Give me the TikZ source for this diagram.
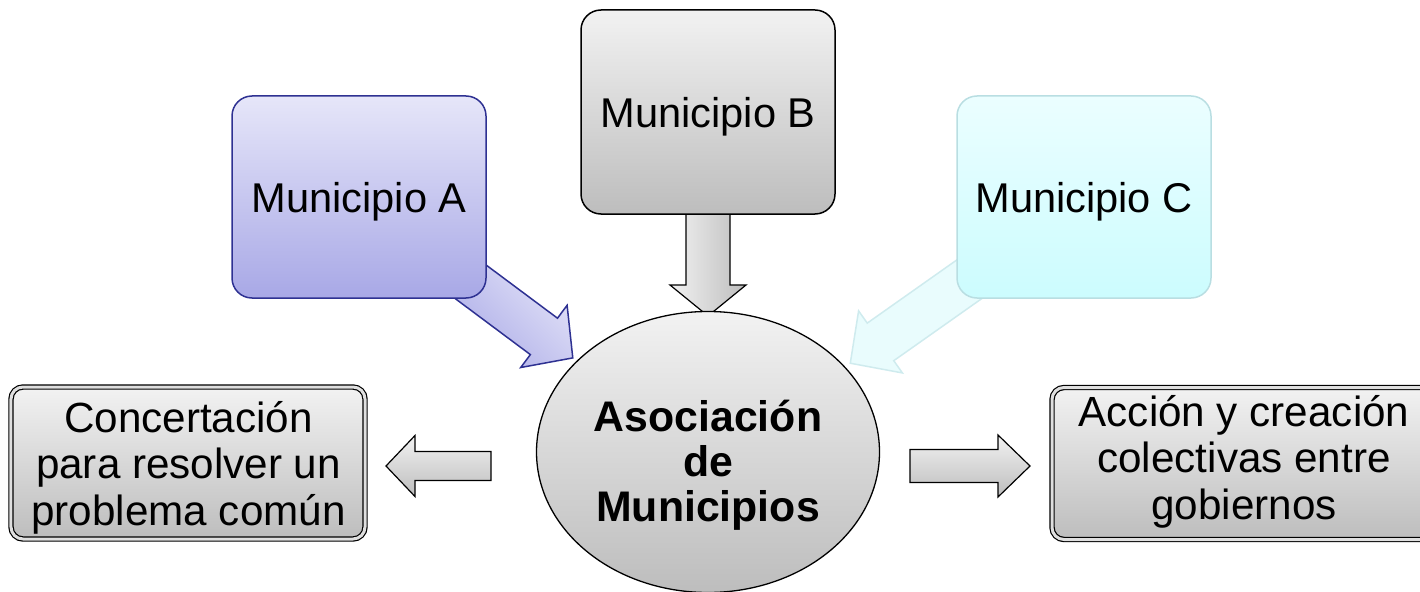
\documentclass[tikz,border=0pt]{standalone}
\usepackage{fontspec}
\setmainfont{Liberation Sans}
\usetikzlibrary{shapes.geometric}
\definecolor{navy}{HTML}{2E3192}
\definecolor{aTop}{HTML}{E6E6F9}
\definecolor{aBot}{HTML}{A8A8E6}
\definecolor{cTop}{HTML}{EBFEFF}
\definecolor{cBot}{HTML}{CCFCFE}
\definecolor{cLine}{HTML}{B9DEE2}
\definecolor{cArrow}{HTML}{E9FCFD}
\definecolor{cArrLine}{HTML}{CFEBEE}
\definecolor{gTop}{HTML}{F2F2F2}
\definecolor{gBot}{HTML}{BDBDBD}
\newcommand{\barrow}[7]{%
  \begin{scope}[shift={(#1)},rotate=#2]
    \path[#7] (0,-#4) -- (#3-#6,-#4) -- (#3-#6,-#5) -- (#3,0) -- (#3-#6,#5) -- (#3-#6,#4) -- (0,#4) -- cycle;
  \end{scope}}
\begin{document}
\begin{tikzpicture}[x=1bp,y=-1bp,
  munbox/.style={rectangle, rounded corners=20bp, line width=1.5bp, minimum width=254bp,
    font=\fontsize{41.6bp}{48bp}\selectfont, text=black, inner sep=0pt, text depth=0pt},
  abox/.style={munbox, draw=navy, top color=aTop, bottom color=aBot},
  gbox/.style={munbox, draw=black, top color=gTop, bottom color=gBot},
  cbox/.style={munbox, draw=cLine, top color=cTop, bottom color=cBot},
  dbox/.style={rectangle, rounded corners=12bp, draw=black, line width=1.2bp, double=gray!25, double distance=3bp, top color=gTop, bottom color=gBot, minimum height=152bp, inner sep=0pt},
  boxtext/.style={align=center, text=black, inner sep=0pt, font=\fontsize{42.2bp}{46.5bp}\selectfont},
  ell/.style={ellipse, draw=black, line width=1.3bp, top color=gTop, bottom color=gBot, minimum width=343bp, minimum height=281bp, inner sep=0pt},
  elltext/.style={align=center, text=black, inner sep=0pt, font=\fontsize{42.8bp}{45bp}\selectfont\bfseries},
  arrA/.style={draw=navy, line width=1.5bp, left color=aTop, right color=aBot, shading angle=-45},
  arrC/.style={draw=cArrLine, line width=1.5bp, fill=cArrow},
  arrG/.style={draw=black, line width=1.2bp, top color=gTop, bottom color=gBot},
  arrGv/.style={draw=black, line width=1.2bp, left color=gTop, right color=gBot}
]
\useasboundingbox (0,0) rectangle (1420,592);
\clip (0,0) rectangle (1420,592);

% block arrows (start points lie under the boxes)
\coordinate (sa) at (444.5,262.3);
\coordinate (sb) at (708,200);
\coordinate (sc) at (981,271);
\coordinate (sl) at (491,466);
\coordinate (sr) at (910,466);
\barrow{sa}{-36.7}{160}{22.7}{38.8}{36}{arrA}
\barrow{sb}{-90}{116}{22}{38}{31}{arrGv}
\barrow{sc}{215.2}{160}{23}{38}{37}{arrC}
\barrow{sl}{180}{105}{14.5}{30.5}{29}{arrG}
\barrow{sr}{0}{120}{16.5}{31}{32}{arrG}

% municipio boxes
\node[abox, minimum height=202bp] (A) at (359,197) {Municipio A};
\node[gbox, minimum height=204bp] (B) at (708,112) {Municipio B};
\node[cbox, minimum height=202bp] (C) at (1084,197) {Municipio C};

% centre ellipse
\node[ell] (M) at (708,452) {};
\node[elltext] (Mt) at (708,465.5) {Asociación\\de\\Municipios};

% result boxes
\node[dbox, minimum width=354bp] (L) at (188,463) {};
\node[boxtext] (Lt) at (188.5,467.4) {Concertación\\para resolver un\\problema común};
\node[dbox, minimum width=384bp] (R) at (1244,463.5) {};
\node[boxtext] (Rt) at (1244,461.4) {Acción y creación\\colectivas entre\\gobiernos};
\end{tikzpicture}
\end{document}
